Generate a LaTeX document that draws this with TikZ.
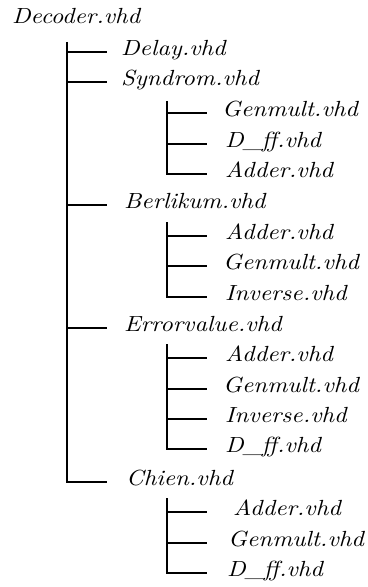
\documentclass[tikz,border=0pt]{standalone}
\usepackage{fontspec}
\newfontfamily\treefont{lmroman10-italic.otf}[FakeStretch=1.12]
\begin{document}
\begin{tikzpicture}[x=1bp,y=-1bp,
  file/.style={anchor=west,inner xsep=0pt,inner ysep=0pt,
    text height=7.5bp,text depth=-7.5bp,
    font=\treefont\fontsize{22}{22}\selectfont},
  branch/.style={line width=1.1bp,black}]
\useasboundingbox (0,0) rectangle (367,587);

% root
\node[file] (dec) at (12,20) {Decoder.vhd};

% first level
\node[file] (delay) at (121,52)  {Delay.vhd};
\node[file] (syn)   at (121,82)  {Syndrom.vhd};
\node[file] (ber)   at (124,205) {Berlikum.vhd};
\node[file] (err)   at (124,328) {Errorvalue.vhd};
\node[file] (chi)   at (126,482) {Chien.vhd};

% second level
\node[file] (syn1) at (222,113) {Genmult.vhd};
\node[file] (syn2) at (225,144) {D\_ff.vhd};
\node[file] (syn3) at (225,174) {Adder.vhd};

\node[file] (ber1) at (225,236) {Adder.vhd};
\node[file] (ber2) at (223,266) {Genmult.vhd};
\node[file] (ber3) at (225,297) {Inverse.vhd};

\node[file] (err1) at (225,358) {Adder.vhd};
\node[file] (err2) at (223,389) {Genmult.vhd};
\node[file] (err3) at (225,419) {Inverse.vhd};
\node[file] (err4) at (225,449) {D\_ff.vhd};

\node[file] (chi1) at (233,512) {Adder.vhd};
\node[file] (chi2) at (228,543) {Genmult.vhd};
\node[file] (chi3) at (227,573) {D\_ff.vhd};

% trunk tops
\coordinate (t0) at (67,42);
\coordinate (t1) at (167,101);
\coordinate (t2) at (167,222);
\coordinate (t3) at (167,344);
\coordinate (t4) at (167,498);

% horizontal ends (line stops before the text)
\foreach \n in {delay,syn,ber,err,chi}
  \coordinate (\n-e) at ([xshift=-14bp]\n.west -| 121,0);
\foreach \n in {syn1,syn2,syn3,ber1,ber2,ber3,err1,err2,err3,err4,chi1,chi2,chi3}
  \coordinate (\n-e) at ([xshift=-18bp]\n.west -| 225,0);

% level-one branches
\draw[branch] (t0) |- (chi-e);
\foreach \n in {delay,syn,ber,err}
  \draw[branch] (t0 |- \n-e) -- (\n-e);

% level-two branches
\draw[branch] (t1) |- (syn3-e);
\foreach \n in {syn1,syn2}
  \draw[branch] (t1 |- \n-e) -- (\n-e);
\draw[branch] (t2) |- (ber3-e);
\foreach \n in {ber1,ber2}
  \draw[branch] (t2 |- \n-e) -- (\n-e);
\draw[branch] (t3) |- (err4-e);
\foreach \n in {err1,err2,err3}
  \draw[branch] (t3 |- \n-e) -- (\n-e);
\draw[branch] (t4) |- (chi3-e);
\foreach \n in {chi1,chi2}
  \draw[branch] (t4 |- \n-e) -- (\n-e);
\end{tikzpicture}
\end{document}
